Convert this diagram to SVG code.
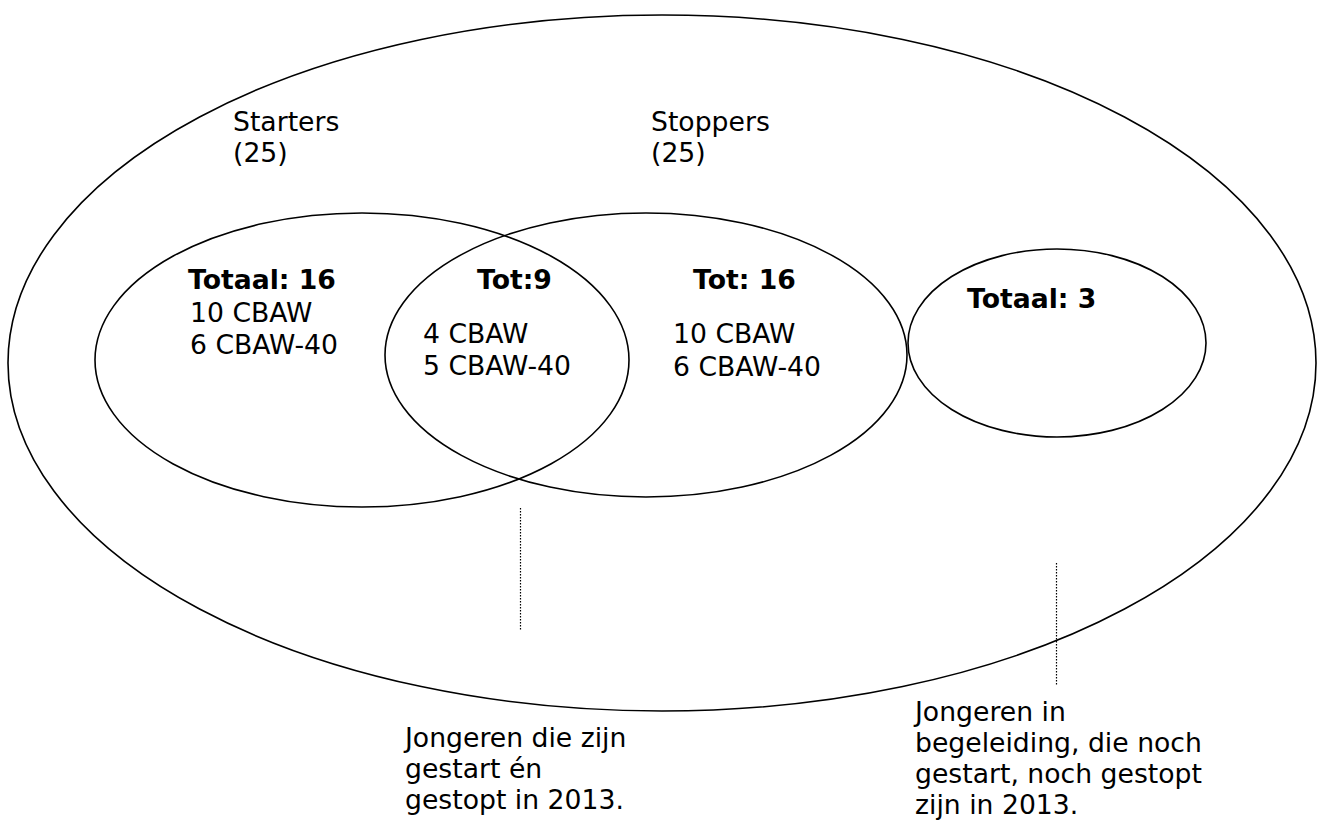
<svg xmlns="http://www.w3.org/2000/svg" width="1318" height="821" viewBox="0 0 1318 821">
<style>
.e{fill:none;stroke:#000;stroke-width:1.6}
.t{font-family:"DejaVu Sans","Verdana",sans-serif;font-size:26.67px;fill:#000}
.b{font-weight:bold}
.d{stroke:#000;stroke-width:1.2;stroke-dasharray:1.5 1.5;fill:none}
</style>
<rect width="1318" height="821" fill="#fff"/>
<g id="all">
<ellipse class="e" cx="662" cy="363" rx="654" ry="348"/>
<text class="t" x="233" y="131">Starters</text>
<text class="t" x="233" y="162">(25)</text>
<text class="t" x="651" y="131">Stoppers</text>
<text class="t" x="651" y="162">(25)</text>
</g>
<g id="starters">
<ellipse class="e" cx="362" cy="360" rx="267" ry="147"/>
<text class="t b" x="188" y="289">Totaal: 16</text>
<text class="t" x="190" y="322">10 CBAW</text>
<text class="t" x="190" y="354">6 CBAW-40</text>
</g>
<g id="stoppers">
<ellipse class="e" cx="646" cy="355" rx="261" ry="142"/>
<text class="t b" x="693" y="289">Tot: 16</text>
<text class="t" x="673" y="343">10 CBAW</text>
<text class="t" x="673" y="376">6 CBAW-40</text>
</g>
<g id="overlap">
<text class="t b" x="477" y="289">Tot:9</text>
<text class="t" x="423" y="343">4 CBAW</text>
<text class="t" x="423" y="375">5 CBAW-40</text>
</g>
<g id="neither">
<ellipse class="e" cx="1057" cy="343" rx="149" ry="94"/>
<text class="t b" x="967" y="308">Totaal: 3</text>
</g>
<g id="connectors">
<line class="d" x1="520.5" y1="508" x2="520.5" y2="630"/>
<line class="d" x1="1056.5" y1="563" x2="1056.5" y2="685"/>
</g>
<g id="note-both">
<text class="t" x="405" y="747">Jongeren die zijn</text>
<text class="t" x="405" y="778">gestart én</text>
<text class="t" x="405" y="809">gestopt in 2013.</text>
</g>
<g id="note-neither">
<text class="t" x="915" y="721">Jongeren in</text>
<text class="t" x="915" y="752">begeleiding, die noch</text>
<text class="t" x="915" y="783">gestart, noch gestopt</text>
<text class="t" x="915" y="814">zijn in 2013.</text>
</g>
</svg>
